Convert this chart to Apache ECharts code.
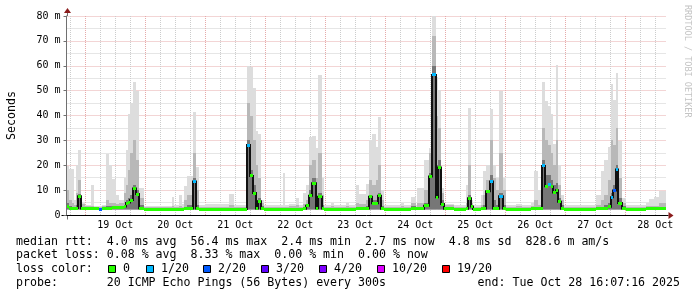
<!DOCTYPE html>
<html><head><meta charset="utf-8">
<script src="https://cdn.jsdelivr.net/npm/echarts@6/dist/echarts.min.js"></script>
<style>html,body{margin:0;padding:0;background:#fff}#c{width:697px;height:297px}</style>
</head><body><div id="c"></div>
<script>
// x values are hours relative to 19 Oct 00:00
const X_MIN = -7.5, X_MAX = 232.5;
const DATA_END_HOUR = 232.1;
const Y_MIN = 0, Y_MAX = 80;
const SMOKE_FLOOR_MS = 2.2;

const dayLabels = ['19 Oct','20 Oct','21 Oct','22 Oct','23 Oct','24 Oct','25 Oct','26 Oct','27 Oct','28 Oct'];
const dayLabelHours = [12,36,60,84,108,132,156,180,204,228];
const dayLineHours = [0,24,48,72,96,120,144,168,192,216];
const sixHourLineHours = [-6,6,12,18,30,36,42,54,60,66,78,84,90,102,108,114,126,132,138,150,156,162,174,180,186,198,204,210,222,228];

const sampleHours = [
 -7.5,-6.5,-5.5,-4.6,-3.9,-2.8,-1.9,0,2.1,3.4,
 5.5,6.5,8.1,9.4,10.8,12.2,13.4,15.4,16.2,17.1,
 18.0,19.0,20.2,21.3,23.4,27.0,31.0,34.5,35.6,37.5,
 38.8,39.5,40.8,43.1,44.1,45.4,48.0,52.0,57.6,59.4,
 62.0,64.8,65.8,66.9,68.1,69.1,70.1,71.4,75.0,79.2,
 80.0,81.4,84.1,85.4,87.0,88.1,89.4,90.7,92.1,93.2,
 94.5,95.4,98.2,99.5,104.1,105.4,108.1,109.4,112.1,113.4,
 114.8,116.1,117.2,118.1,119.4,123.0,126.1,127.4,130.1,132.1,
 132.8,135.4,137.6,138.8,140.1,141.2,142.1,143.4,147.4,150.0,
 152.1,153.2,154.2,155.0,158.1,159.0,160.4,161.7,163.0,164.4,
 165.4,167.0,168.1,172.1,174.8,178.1,179.4,181.2,182.1,182.8,
 183.8,185.0,186.1,187.0,188.1,189.2,190.1,191.4,195.0,199.0,
 204.1,206.1,207.4,209.2,210.1,211.0,212.1,213.2,214.5,216.1,
 220.0,224.1,225.4,227.4,229.4
];
const medianMs = [
 3.4,2.8,2.6,2.5,2.8,7.5,2.6,2.7,2.7,2.6,
 2.4,2.8,2.8,2.8,2.9,2.9,2.9,3.4,4.8,5.0,
 6.0,10.7,8.4,2.7,2.4,2.4,2.4,2.4,2.4,2.4,
 2.4,2.5,2.6,13.5,2.6,2.4,2.4,2.4,2.4,2.4,
 2.4,28.1,15.7,8.8,2.6,5.5,2.5,2.4,2.4,2.4,
 2.4,2.4,2.4,2.4,2.5,3.7,7.7,12.8,2.7,7.3,
 2.6,2.4,2.4,2.4,2.4,2.4,2.5,2.5,2.6,7.3,
 4.7,4.7,7.7,2.5,2.4,2.4,2.4,2.4,2.5,2.5,
 2.5,3.7,15.5,56.3,7.1,19.1,4.4,2.5,2.4,2.4,
 2.5,6.7,3.4,2.4,2.5,2.6,9.5,13.5,2.6,2.5,
 7.5,2.6,2.4,2.4,2.4,2.5,2.5,2.5,2.5,19.7,
 11.6,12.2,11.4,9.0,10.0,5.3,2.5,2.4,2.4,2.4,
 2.5,2.5,2.6,3.3,7.1,9.8,18.3,4.8,2.6,2.4,
 2.4,2.5,2.5,2.5,2.5
];
const lostPings = [
 0,0,0,0,0,0,0,0,0,0,
 2,0,0,0,0,0,0,0,0,0,
 0,0,0,0,0,0,0,0,0,0,
 0,0,0,1,0,0,0,0,0,0,
 0,1,0,0,0,0,0,0,0,0,
 0,0,0,0,0,0,0,0,0,0,
 0,0,0,0,0,0,0,0,0,0,
 0,0,0,0,0,0,0,0,0,0,
 0,0,0,1,0,0,0,0,0,0,
 0,0,0,0,0,0,0,1,0,0,
 1,0,0,0,0,0,0,0,0,1,
 0,1,0,0,0,0,0,0,0,0,
 0,0,0,0,1,2,1,0,0,0,
 0,0,0,0,0
];
const smokeDarkTop = [
 5,3.5,3.2,3,4,8.5,3.2,3,3,2.8,
 2.8,3,3.5,3.5,3.5,3.3,3.5,4,6,7,
 8,12,10,4,2.7,2.7,2.7,2.8,2.8,2.8,
 2.8,3,4,15,4,2.8,2.7,2.8,3,2.8,
 2.8,30,18,12,6,7,3.5,2.8,2.8,2.8,
 2.8,2.8,3,2.8,3,4.5,10,15,5,9,
 4,2.8,2.8,2.8,2.8,2.8,3,3,3.5,8,
 6,6,9,3.5,2.8,2.8,2.8,2.8,3.5,2.8,
 3,5,17,60,20,22,6,3,2.8,2.8,
 3,8,4,2.8,3,4,10,16,6,4,
 9,4,2.8,2.8,2.8,2.8,3,2.8,2.8,22,
 16,16,14,12,13,7,4,2.8,2.8,2.8,
 3,3,4,5,9,12,20,7,3.5,2.8,
 2.8,2.8,2.8,2.8,3
];
const smokeMidTop = [
 10,6,5,4,9,14,4.5,3.5,3.5,3.2,
 3.2,3.5,6,5,5,4.5,5,9,12,18,
 25,30,22,7,3.2,3.2,3.2,3.5,3.2,3.5,
 3.2,6,8,25,10,3.2,3.2,3.3,4,3.3,
 3.3,45,40,30,20,15,5,3.3,3.3,3.3,
 3.3,3.5,4,3.3,4.5,6,20,22,15,25,
 8,3.3,3.5,3.3,3.5,3.3,5,4.5,6,14,
 12,14,20,6,3.3,3.3,3.5,3.3,5,3.3,
 5,10,25,72,40,35,9,4,3.3,3.3,
 5,20,5,3.3,4,8,14,30,15,10,
 25,10,3.3,3.5,3.3,3.5,6,4,3.3,35,
 30,28,25,20,30,12,6,3.3,3.3,3.3,
 4,6,8,14,30,28,35,15,5,3.3,
 3.3,3.5,3.5,3.5,5
];
const smokeMaxMs = [
 19.5,18.5,18.5,6,20,26,5,4,12,3.8,
 3.8,4,24.5,20,14.4,8,6,15,26,40.6,
 45,53.3,50,11,3.8,3.6,3.8,7.3,4,8,
 4.5,11.8,15.8,41.5,19.1,4,4.4,4.4,8.4,4,
 4,60,59.4,51,33.9,32.5,6,4,4,16.9,
 4,4.4,7,4,9,12,31.2,31.9,27,56.3,
 15,4,5,4,4.8,4,12.2,8.4,12.4,30.1,
 32.5,27.4,39.5,10,4,4,5,4,7.3,4,
 11,22.1,27,80,55.3,50.2,11,4.4,4,4,
 12.2,42.9,6,4,8,17.8,20,42.6,20,15,
 50,15,4,4.4,4,5,17.8,10,4,53.6,
 46,44,40.6,28.5,60.3,20,8,4,4,4,
 8,17.8,22.1,27.2,52.6,46.2,57,29.9,7,4,
 4,5,6.4,7.3,9.8
];

const lossLevels = [0,1,2,3,4,10,19];
const lossLabels = ['0','1/20','2/20','3/20','4/20','10/20','19/20'];
const lossColors = ['#26ff00','#00b8ff','#0059ff','#5e00ff','#7e00ff','#dd00ff','#ff0000'];

const statLines = [
 'median rtt:  4.0 ms avg  56.4 ms max  2.4 ms min  2.7 ms now  4.8 ms sd  828.6 m am/s',
 'packet loss: 0.08 % avg  8.33 % max  0.00 % min  0.00 % now'
];
const probeText = 'probe:       20 ICMP Echo Pings (56 Bytes) every 300s';
const endText = 'end: Tue Oct 28 16:07:16 2025';

function lossColor(n){
  let c = lossColors[0];
  for (let i=0;i<lossLevels.length;i++) if (n >= lossLevels[i]) c = lossColors[i];
  return c;
}
const nextHour = i => (i+1 < sampleHours.length ? sampleHours[i+1] : DATA_END_HOUR);
const smokeData = sampleHours.map((h,i)=>[h, nextHour(i), smokeDarkTop[i], smokeMidTop[i], smokeMaxMs[i]]);
const medianData = sampleHours.map((h,i)=>[h, nextHour(i), medianMs[i], lostPings[i], i>0 ? medianMs[i-1] : medianMs[i]]);
const gridData = dayLineHours.map(h=>[h,1]).concat(sixHourLineHours.map(h=>[h,0]));

const MONO = '"DejaVu Sans Mono", monospace';
const RED_GRID = '#e6aaaa', GREY_GRID = '#cccccc';

function renderSmoke(params, api){
  const x0 = api.value(0), x1 = api.value(1);
  const a = api.coord([x0, SMOKE_FLOOR_MS]), b = api.coord([x1, SMOKE_FLOOR_MS]);
  const L = Math.round(a[0]), R = Math.round(b[0]);
  const bottom = a[1];
  const layers = [[api.value(4),'#dddddd'],[api.value(3),'#b8b8b8'],[api.value(2),'#777777']];
  return {type:'group', children: layers.map(([v,c])=>{
    const t = Math.round(api.coord([x0, v])[1]);
    return {type:'rect', shape:{x:L, y:t, width:R-L, height:bottom-t}, style:{fill:c}};
  })};
}
function renderConnector(params, api){
  const x0 = api.value(0);
  const p = api.coord([x0, api.value(2)]);
  const q = api.coord([x0, api.value(4)]);
  const L = Math.round(p[0]);
  if (Math.abs(p[1]-q[1]) < 2) return {type:'group', children:[]};
  const top = Math.min(p[1],q[1]) - 1, bot = Math.max(p[1],q[1]) + 1;
  return {type:'rect', shape:{x:L-1, y:top, width:2, height:bot-top}, style:{fill:'#111'}};
}
function renderMarker(params, api){
  const x0 = api.value(0), x1 = api.value(1), m = api.value(2);
  const a = api.coord([x0, m]), b = api.coord([x1, m]);
  const L = Math.round(a[0]), R = Math.round(b[0]);
  const y = Math.round(a[1] - 1.5);
  return {type:'rect', shape:{x:L, y:y, width:Math.max(R-L,2), height:3}, style:{fill:lossColor(api.value(3))}};
}
function renderGridLine(params, api){
  const h = api.value(0);
  const t = api.coord([h, Y_MAX]), b = api.coord([h, Y_MIN]);
  const x = Math.round(t[0]) + 0.5;
  return {type:'line', shape:{x1:x, y1:t[1], x2:x, y2:b[1]},
    style:{stroke: api.value(1) ? RED_GRID : GREY_GRID, lineWidth:1, lineDash:[1,1]}};
}

const chart = echarts.init(document.getElementById('c'));
const option = {
  animation:false,
  backgroundColor:'#fff',
  grid:{left:66.5, top:16, width:600, height:199},
  xAxis:{type:'value', min:X_MIN, max:X_MAX, interval:1.5,
    axisLine:{show:true, onZero:false, lineStyle:{color:'#000', width:1}},
    axisTick:{show:false}, splitLine:{show:false},
    axisLabel:{fontFamily:MONO, fontSize:10, color:'#000', margin:5, hideOverlap:false,
      formatter:v=>{ const r = Math.round(v*2)/2; const k = dayLabelHours.indexOf(r); return k>=0 ? dayLabels[k] : ''; }}},
  yAxis:{type:'value', min:Y_MIN, max:Y_MAX, interval:10,
    axisLine:{show:true, onZero:false, lineStyle:{color:'#707070', width:1}},
    axisTick:{show:true, length:3, lineStyle:{color:'#707070'}},
    axisLabel:{fontFamily:MONO, fontSize:10, color:'#000', margin:6, formatter:v=> v===0 ? '0' : v+' m'},
    splitLine:{show:true, lineStyle:{color:RED_GRID, type:[1,1]}},
    minorTick:{show:false, splitNumber:2},
    minorSplitLine:{show:true, lineStyle:{color:GREY_GRID, type:[1,1]}}},
  series:[
    {type:'custom', name:'grid', z:1, silent:true, clip:true, data:gridData, encode:{x:0}, renderItem:renderGridLine},
    {type:'custom', name:'smoke', z:2, silent:true, clip:true, data:smokeData, encode:{x:[0,1], y:[2,3,4]}, renderItem:renderSmoke},
    {type:'custom', name:'median-join', z:3, silent:true, clip:true, data:medianData, encode:{x:[0,1], y:[2,4]}, renderItem:renderConnector},
    {type:'custom', name:'median', z:4, silent:true, clip:true, data:medianData, encode:{x:[0,1], y:2}, renderItem:renderMarker}
  ]
};
chart.setOption(option);

const tl = chart.convertToPixel({gridIndex:0}, [X_MIN, Y_MAX]);
const br = chart.convertToPixel({gridIndex:0}, [X_MAX, Y_MIN]);
const ax = Math.round(tl[0]) + 0.5, ay = Math.round(br[1]) + 0.5;
const ARROW = '#8b1c1c';
const textStyle = (t,x,y,extra)=>({type:'text', x:x, y:y, style:Object.assign({text:t, font:'11.6px '+MONO, fill:'#000', textVerticalAlign:'middle', verticalAlign:'middle'}, extra||{})});
const graphics = [
  {type:'line', shape:{x1:ax, y1:tl[1]-4, x2:ax, y2:tl[1]}, style:{stroke:'#707070', lineWidth:1}},
  {type:'line', shape:{x1:ax, y1:ay, x2:ax, y2:ay+4}, style:{stroke:'#707070', lineWidth:1}},
  {type:'polygon', shape:{points:[[ax, tl[1]-8],[ax-3.5, tl[1]-3],[ax+3.5, tl[1]-3]]}, style:{fill:ARROW}},
  {type:'line', shape:{x1:ax-6, y1:ay, x2:ax, y2:ay}, style:{stroke:'#000', lineWidth:1}},
  {type:'line', shape:{x1:br[0], y1:ay, x2:br[0]+2, y2:ay}, style:{stroke:'#000', lineWidth:1}},
  {type:'polygon', shape:{points:[[br[0]+7, ay],[br[0]+2, ay-3.5],[br[0]+2, ay+3.5]]}, style:{fill:ARROW}},
  {type:'text', x:12, y:(tl[1]+br[1])/2, rotation:Math.PI/2, style:{text:'Seconds', font:'11.6px '+MONO, fill:'#000', textAlign:'center', align:'center', textVerticalAlign:'middle', verticalAlign:'middle'}},
  {type:'text', x:687, y:5, rotation:-Math.PI/2, style:{text:'RRDTOOL / TOBI OETIKER', font:'8.5px '+MONO, fill:'#c4c4c4', textAlign:'left', align:'left', textVerticalAlign:'middle', verticalAlign:'middle'}},
  textStyle(statLines[0], 16, 242),
  textStyle(statLines[1], 16, 255),
  textStyle('loss color:', 16, 269),
  textStyle(probeText, 16, 283),
  textStyle(endText, 680, 283, {textAlign:'right', align:'right'})
];
const boxX = [108,146,203,261,319,377,442];
lossLabels.forEach((lab,i)=>{
  graphics.push({type:'rect', shape:{x:boxX[i]+0.5, y:265.5, width:7, height:7}, style:{fill:lossColors[i], stroke:'#000', lineWidth:1}});
  graphics.push(textStyle(lab, boxX[i]+15, 269));
});
chart.setOption({graphic:{elements:graphics}});
</script>
</body></html>
